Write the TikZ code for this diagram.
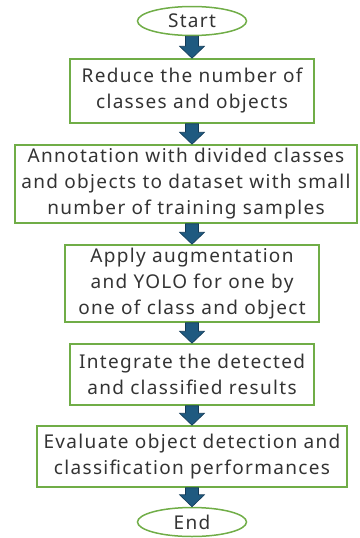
\documentclass[tikz,border=0pt]{standalone}
\usepackage{fontspec}
\setmainfont{Noto Sans}[LetterSpace=7]
\usetikzlibrary{positioning,calc,shapes.geometric}
\definecolor{boxgreen}{HTML}{70AD47}
\definecolor{arrfill}{HTML}{1F5A80}
\definecolor{arrline}{HTML}{123A57}
\definecolor{txtgray}{HTML}{333333}
\tikzset{
	flowtext/.style={text=txtgray, font=\fontsize{19}{26}\selectfont, align=center, inner sep=0pt},% all labels
	blockarr/.style={fill=arrfill, draw=arrline, line width=0.6pt, line join=miter}
}
% thick block arrow from the bottom of #1 to the top of #2, on the column of #3
\newcommand\flowarrow[3]{%
	\draw[blockarr] let \p1=(#1.south), \p2=(#2.north), \p3=(#3) in
		(\x3-6.5pt,\y1) -- (\x3+6.5pt,\y1) -- (\x3+6.5pt,\y2+12pt) -- (\x3+12.5pt,\y2+12pt)
		-- (\x3,\y2) -- (\x3-12.5pt,\y2+12pt) -- (\x3-6.5pt,\y2+12pt) -- cycle;}
\begin{document}
\begin{tikzpicture}[x=1pt, y=-1pt,
            flowbox/.style={flowtext, rectangle, draw=boxgreen, line width=1.5pt},
            terminal/.style={flowtext, ellipse, draw=boxgreen, line width=1.5pt, minimum width=109pt, minimum height=29pt}
        ]
            \useasboundingbox (0,0) rectangle (359,538);
            \node[terminal] (start) at (192,21) {Start};
            \node[flowbox, minimum width=244pt, minimum height=64pt] (reduce) at (192,91)
                {Reduce the number of\\classes and objects};
            \node[flowbox, minimum width=342pt, minimum height=78pt] (annot) at (186,184)
                {Annotation with divided classes\\and objects to dataset with small\\number of training samples};
            \node[flowbox, minimum width=254pt, minimum height=77pt] (yolo) at (192,283.5)
                {Apply augmentation\\and YOLO for one by\\one of class and object};
            \node[flowbox, minimum width=244pt, minimum height=61pt] (integ) at (192,374.5)
                {Integrate the detected\\and classified results};
            \node[flowbox, minimum width=310pt, minimum height=61pt] (evalu) at (192,456.5)
                {Evaluate object detection and\\classification performances};
            \node[terminal] (end) at (192,522) {End};
            % arrows down the column
            \flowarrow{start}{reduce}{start}
            \flowarrow{reduce}{annot}{start}
            \flowarrow{annot}{yolo}{start}
            \flowarrow{yolo}{integ}{start}
            \flowarrow{integ}{evalu}{start}
            \flowarrow{evalu}{end}{start}
        \end{tikzpicture}
\end{document}
